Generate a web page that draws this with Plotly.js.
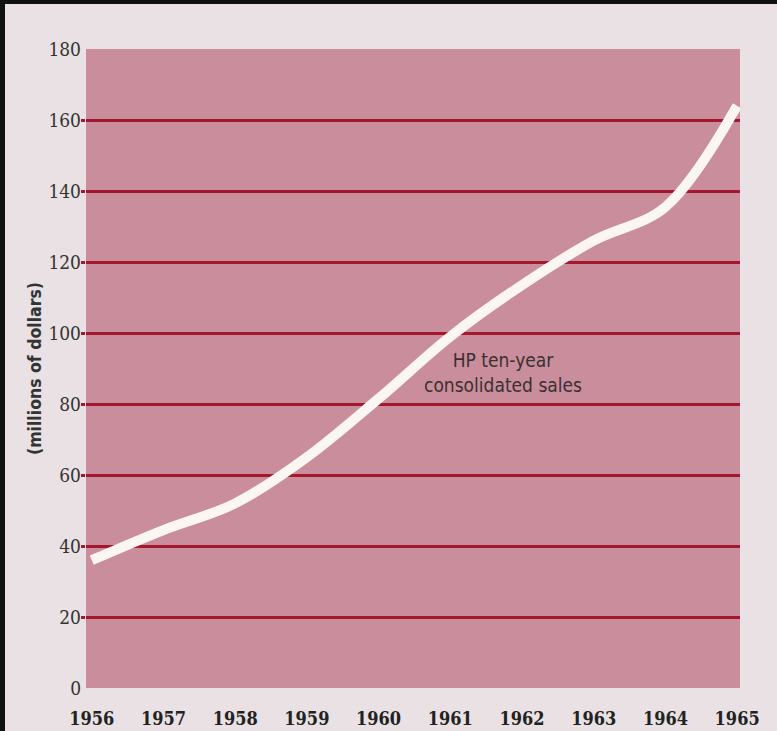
<!DOCTYPE html>
<html>
<head>
<meta charset="utf-8">
<script src="https://cdn.plot.ly/plotly-3.0.1.min.js"></script>
<style>
  html, body { margin: 0; padding: 0; background: #111; }
  #chart { position: absolute; left: 5px; top: 4px; width: 772px; height: 727px; }
</style>
</head>
<body>
<div id="chart"></div>
<script>
const years = [1956, 1957, 1958, 1959, 1960, 1961, 1962, 1963, 1964, 1965];
const sales = [36, 44.5, 52, 65, 81.5, 99, 113.5, 126, 135.5, 164];
const yTickVals = [0, 20, 40, 60, 80, 100, 120, 140, 160, 180];
const gridVals = [20, 40, 60, 80, 100, 120, 140, 160];
const xTickLabels = ['1956', '1957', '1958', '1959', '1960', '1961', '1962', '1963', '1964', '1965'];
const yTitle = '(millions of dollars)';
const seriesLabel = 'HP ten-year<br>consolidated sales';

const trace = {
  x: years,
  y: sales,
  type: 'scatter',
  mode: 'lines',
  line: { color: '#fbf6f2', width: 10, shape: 'spline', smoothing: 1 },
  hoverinfo: 'x+y',
  cliponaxis: true
};

const layout = {
  width: 772,
  height: 727,
  margin: { l: 81, r: 37, t: 45, b: 43 },
  paper_bgcolor: '#e9e1e4',
  plot_bgcolor: '#ca8d9b',
  showlegend: false,
  xaxis: {
    range: [1955.92, 1965.04],
    tickmode: 'array',
    tickvals: years,
    ticktext: xTickLabels,
    ticks: '',
    showgrid: false,
    zeroline: false,
    showline: false,
    ticklabelstandoff: 18,
    tickfont: { family: 'DejaVu Serif Condensed, DejaVu Serif, serif', size: 18, color: '#222', weight: 'bold' }
  },
  yaxis: {
    range: [0, 180],
    tickmode: 'array',
    tickvals: yTickVals,
    ticks: '',
    showgrid: false,
    zeroline: false,
    showline: false,
    ticklabelstandoff: 4,
    tickfont: { family: 'DejaVu Serif Condensed, DejaVu Serif, serif', size: 19, color: '#333' },
    minor: {
      tickmode: 'array',
      tickvals: gridVals,
      showgrid: true,
      gridcolor: '#a3182f',
      gridwidth: 3,
      ticks: 'outside',
      ticklen: 4,
      tickwidth: 3,
      tickcolor: '#a3182f'
    },
    title: {
      text: yTitle,
      standoff: 2,
      font: { family: 'DejaVu Sans Condensed, DejaVu Sans, sans-serif', size: 17.5, color: '#333', weight: 'bold' }
    }
  },
  annotations: [{
    x: 1961.74,
    y: 89,
    xref: 'x',
    yref: 'y',
    text: seriesLabel,
    showarrow: false,
    align: 'center',
    font: { family: 'DejaVu Sans Condensed, DejaVu Sans, sans-serif', size: 19, color: '#3a3034' }
  }]
};

Plotly.newPlot('chart', [trace], layout, { displayModeBar: false, staticPlot: true });
</script>
</body>
</html>
